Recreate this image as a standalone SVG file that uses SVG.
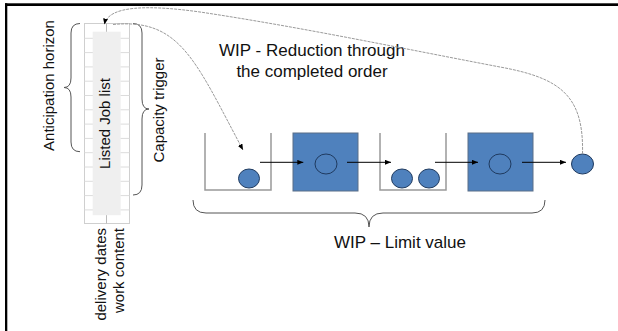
<svg xmlns="http://www.w3.org/2000/svg" width="618" height="331" viewBox="0 0 618 331">
<defs>
<marker id="ah" viewBox="0 0 6 5" markerWidth="6" markerHeight="5" refX="6" refY="2.5" orient="auto" markerUnits="userSpaceOnUse">
<path d="M0,0 L6,2.5 L0,5 z" fill="#000"/>
</marker>
</defs>
<style>
text{font-family:"Liberation Sans",Arial,sans-serif;fill:#111}
.v{font-size:15px}
.h{font-size:17px}
.brace{fill:none;stroke:#555;stroke-width:1}
.bucket{fill:none;stroke:#999;stroke-width:1.5}
.sq{fill:#4f81bd;stroke:#5b6f88;stroke-width:1}
.ball{fill:#4f81bd;stroke:#1f3a5f;stroke-width:1}
.flow{stroke:#000;stroke-width:1;fill:none;marker-end:url(#ah)}
.loop{stroke:#9a9a9a;stroke-width:1;fill:none;stroke-dasharray:3 1;marker-end:url(#ah)}
.grid{stroke:#dcdcdc;stroke-width:1}
</style>
<rect width="618" height="331" fill="#fff"/>
<!-- frame -->
<rect x="5" y="3.3" width="613" height="2.7" fill="#000"/>
<rect x="5" y="3.3" width="2.3" height="328" fill="#000"/>

<g id="job-list">
<rect x="84.5" y="23.5" width="45" height="200" fill="#fff" stroke="#cfcfcf" stroke-width="1"/>
<g class="grid">
<line x1="84.5" y1="38.3" x2="129.5" y2="38.3"/>
<line x1="84.5" y1="52.6" x2="129.5" y2="52.6"/>
<line x1="84.5" y1="66.9" x2="129.5" y2="66.9"/>
<line x1="84.5" y1="81.2" x2="129.5" y2="81.2"/>
<line x1="84.5" y1="95.5" x2="129.5" y2="95.5"/>
<line x1="84.5" y1="109.8" x2="129.5" y2="109.8"/>
<line x1="84.5" y1="124.1" x2="129.5" y2="124.1"/>
<line x1="84.5" y1="138.4" x2="129.5" y2="138.4"/>
<line x1="84.5" y1="152.7" x2="129.5" y2="152.7"/>
<line x1="84.5" y1="167" x2="129.5" y2="167"/>
<line x1="84.5" y1="181.3" x2="129.5" y2="181.3"/>
<line x1="84.5" y1="195.6" x2="129.5" y2="195.6"/>
<line x1="84.5" y1="209.9" x2="129.5" y2="209.9"/>
<line x1="106.5" y1="23.5" x2="106.5" y2="223.5" stroke="#bbb"/>
</g>
<rect x="92.7" y="31.7" width="28" height="183.5" fill="#efefef"/>
<text class="v" transform="translate(109.5,123.5) rotate(-90)" text-anchor="middle">Listed Job list</text>
<text class="v" transform="translate(105.5,228) rotate(-90)" text-anchor="end">delivery dates</text>
<text class="v" transform="translate(123.5,228) rotate(-90)" text-anchor="end">work content</text>
</g>

<g id="anticipation-horizon">
<path class="brace" d="M80,23.5 Q71,23.5 71,33 L71,78 Q71,87.5 64,87.5 Q71,87.5 71,97 L71,142 Q71,151.7 80,151.7"/>
<text class="v" transform="translate(54,85.5) rotate(-90)" text-anchor="middle">Anticipation horizon</text>
</g>

<g id="capacity-trigger">
<path class="brace" d="M133,23.5 Q142,23.5 142,33 L142,99 Q142,109 149,109 Q142,109 142,119 L142,185 Q142,195 133,195"/>
<text class="v" transform="translate(164,110) rotate(-90)" text-anchor="middle">Capacity trigger</text>
</g>

<g id="buffer1">
<path class="bucket" d="M205,133 L205,190 L271,190 L271,133"/>
<ellipse class="ball" cx="249" cy="178.5" rx="10.5" ry="9.5"/>
</g>

<g id="station1">
<rect class="sq" x="293" y="133" width="65" height="58"/>
<ellipse class="ball" cx="326" cy="164" rx="11" ry="10"/>
</g>

<g id="buffer2">
<path class="bucket" d="M380,133 L380,190 L446,190 L446,133"/>
<ellipse class="ball" cx="402" cy="178.5" rx="10.5" ry="9.5"/>
<ellipse class="ball" cx="429" cy="178.5" rx="10.5" ry="9.5"/>
</g>

<g id="station2">
<rect class="sq" x="468" y="133" width="65" height="58"/>
<ellipse class="ball" cx="500" cy="164" rx="11" ry="10"/>
</g>

<g id="completed-order">
<ellipse class="ball" cx="582.5" cy="164" rx="11" ry="10"/>
</g>

<g id="wip-reduction-label">
<text class="h" x="312" y="56" text-anchor="middle">WIP - Reduction through</text>
<text class="h" x="312" y="77" text-anchor="middle">the completed order</text>
</g>

<g id="wip-limit">
<path class="brace" d="M193,200 Q193,213 206,213 L355,213 Q369,213 369,227 Q369,213 383,213 L532,213 Q545,213 545,200"/>
<text class="h" x="400" y="248" text-anchor="middle">WIP – Limit value</text>
</g>

<g id="connectors">
<line class="flow" x1="260" y1="162.3" x2="303.3" y2="162.3"/>
<line class="flow" x1="347" y1="162.3" x2="391" y2="162.3"/>
<line class="flow" x1="435" y1="162.3" x2="478" y2="162.3"/>
<line class="flow" x1="522" y1="162.3" x2="566" y2="162.3"/>
<path class="loop" d="M582.5,154 C584,95 560,78 500,67 C400,48 300,27 200,12 C150,5 108,5 104.5,24.5"/>
<path class="loop" d="M113,24.5 C180,18 195,60 243,150"/>
</g>
</svg>
